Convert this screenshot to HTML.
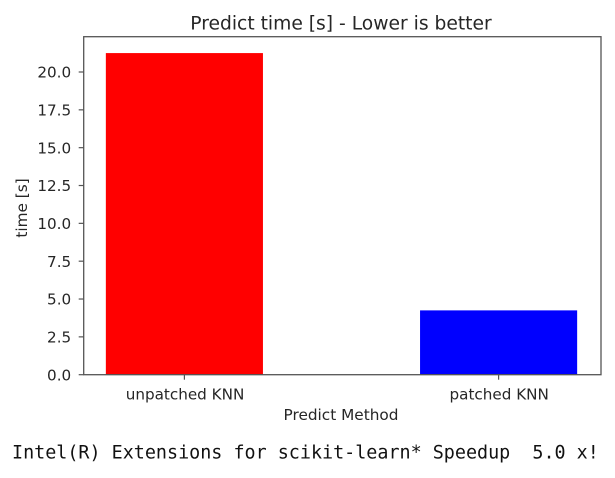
<!DOCTYPE html>
<html>
<head>
<meta charset="utf-8">
<style>
html,body{margin:0;padding:0;background:#fff;width:615px;height:478px;overflow:hidden}
svg{display:block;filter:blur(0.3px)}
text{font-family:"DejaVu Sans","Liberation Sans",sans-serif;fill:#262626}
</style>
</head>
<body>
<svg id="chart" width="615" height="478" viewBox="0 0 615 478" xmlns="http://www.w3.org/2000/svg">
<rect x="0" y="0" width="615" height="478" fill="#ffffff"/>
<g id="bars"></g>
<g id="axes"></g>
<text x="341" y="29.5" text-anchor="middle" font-size="18.7">Predict time [s] - Lower is better</text>
<text x="341" y="420" text-anchor="middle" font-size="15.3">Predict Method</text>
<text transform="translate(27,208) rotate(-90)" text-anchor="middle" font-size="15.3">time [s]</text>
<text x="12" y="458.5" style="font-family:'DejaVu Sans Mono','Liberation Mono',monospace;fill:#111;white-space:pre" font-size="18.4" xml:space="preserve">Intel(R) Extensions for scikit-learn* Speedup  5.0 x!</text>
</svg>
<script>
var categories = ['unpatched KNN', 'patched KNN'];
var predictTimes = [21.25, 4.25];
var barColors = ['#ff0000', '#0000ff'];
var yTicks = [0, 2.5, 5, 7.5, 10, 12.5, 15, 17.5, 20];
var yTickLabels = ['0.0', '2.5', '5.0', '7.5', '10.0', '12.5', '15.0', '17.5', '20.0'];

var NS = 'http://www.w3.org/2000/svg';
var plotLeft = 83.7, plotRight = 601, plotTop = 36.7, plotBottom = 374.7;
var barWidthUnits = 0.5;
function yScale(v) { return plotBottom - v * 15.135; }
function xScale(i) { return 184.4 + i * 314.2; }
function make(tag, attrs, parent) {
  var el = document.createElementNS(NS, tag);
  for (var k in attrs) { el.setAttribute(k, attrs[k]); }
  parent.appendChild(el);
  return el;
}
var barsGroup = document.getElementById('bars');
var axesGroup = document.getElementById('axes');
var axisColor = '#555555';

predictTimes.forEach(function (value, i) {
  var halfWidth = (xScale(1) - xScale(0)) * barWidthUnits / 2;
  var bar = make('rect', {
    x: xScale(i) - halfWidth,
    y: yScale(value),
    width: halfWidth * 2,
    height: yScale(0) - yScale(value),
    fill: barColors[i]
  }, barsGroup);
  
  
});

var frame = make('rect', {
  x: plotLeft,
  y: plotTop,
  width: plotRight - plotLeft,
  height: plotBottom - plotTop,
  fill: 'none',
  stroke: axisColor,
  'stroke-width': 1.3
}, axesGroup);



yTicks.forEach(function (tick, i) {
  var y = yScale(tick);
  var mark = make('line', { x1: plotLeft - 5, x2: plotLeft, y1: y, y2: y, stroke: axisColor, 'stroke-width': 1.2 }, axesGroup);
  
  
  var label = make('text', { x: plotLeft - 12.5, y: y + 5.7, 'text-anchor': 'end', 'font-size': 15.2 }, axesGroup);
  label.textContent = yTickLabels[i];
  
  
});

categories.forEach(function (name, i) {
  var x = xScale(i);
  var mark = make('line', { x1: x, x2: x, y1: plotBottom, y2: plotBottom + 5, stroke: axisColor, 'stroke-width': 1.2 }, axesGroup);
  
  
  var label = make('text', { x: x + 0.6, y: plotBottom + 24.6, 'text-anchor': 'middle', 'font-size': 15.2 }, axesGroup);
  label.textContent = name;
  
  
});
</script>
</body>
</html>
